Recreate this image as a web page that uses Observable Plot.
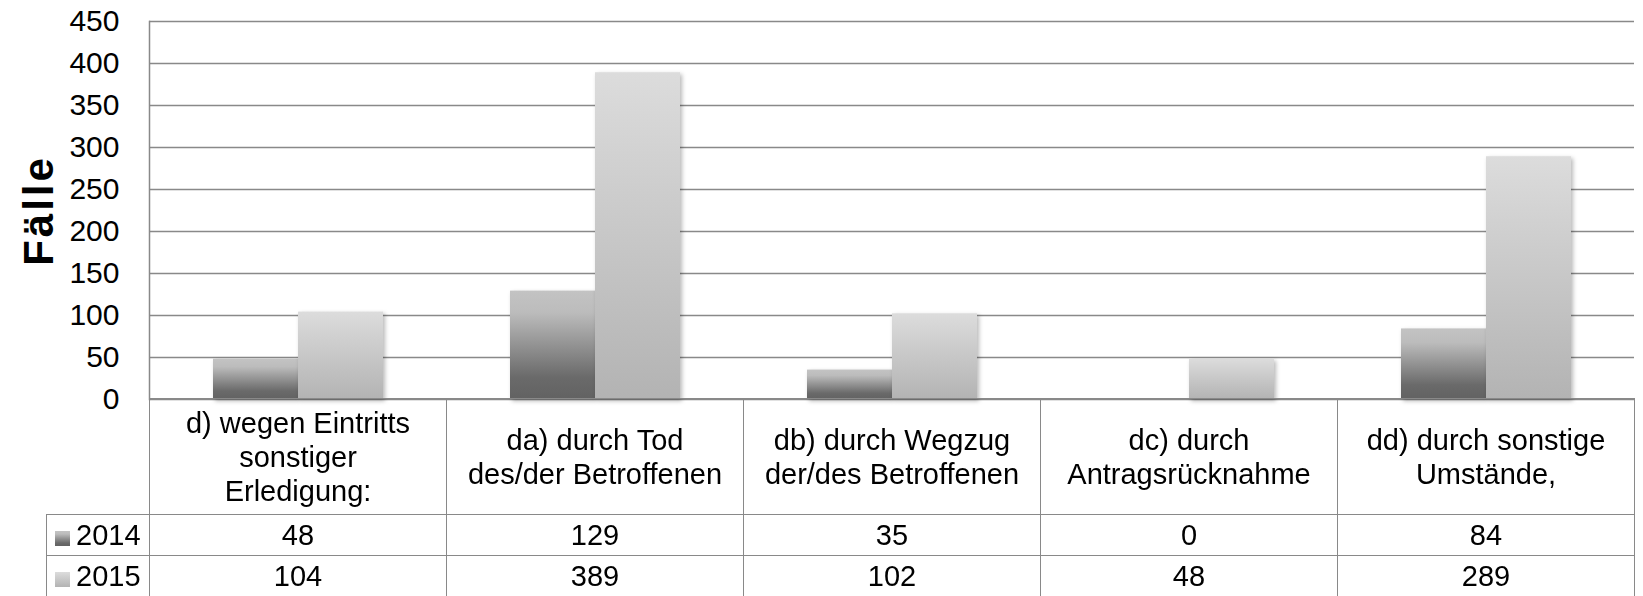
<!DOCTYPE html>
<html>
<head>
<meta charset="utf-8">
<script src="https://cdn.jsdelivr.net/npm/d3@7"></script>
<script src="https://cdn.jsdelivr.net/npm/@observablehq/plot@0.6"></script>
<style>
  html, body { margin: 0; padding: 0; background: #fff; }
  #chart { position: relative; width: 1643px; height: 596px; overflow: hidden; font-family: "Liberation Sans", Arial, sans-serif; }
  #chart svg { position: absolute; left: 0; top: 0; }
  #tbl { position: absolute; border-collapse: collapse; table-layout: fixed; font-size: 29px; color: #000; font-family: "Liberation Sans", Arial, sans-serif; }
  #tbl td { border: 1.5px solid #898989; text-align: center; vertical-align: middle; padding: 0; line-height: 34px; white-space: pre-line; overflow: hidden; }
  #tbl td.blank { border-top: none; border-left: none; }
  #tbl td.leg { text-align: left; padding-left: 8px; white-space: nowrap; }
  .sw { display: inline-block; width: 15px; height: 15px; margin-right: 6px; vertical-align: -1px; }
  .sw2014 { background: linear-gradient(#c3c3c3, #bcbcbc 20%, #6a6a6a 80%, #626262); }
  .sw2015 { background: linear-gradient(#dcdcdc, #b3b3b3); }
</style>
</head>
<body>
<div id="chart"></div>
<script>
// ---- data ----
const categories = [
  "d) wegen Eintritts\nsonstiger\nErledigung:",
  "da) durch Tod\ndes/der Betroffenen",
  "db) durch Wegzug\nder/des Betroffenen",
  "dc) durch\nAntragsrücknahme",
  "dd) durch sonstige\nUmstände,"
];
const years = ["2014", "2015"];
const values2014 = [48, 129, 35, 0, 84];
const values2015 = [104, 389, 102, 48, 289];
const yTicks = [0, 50, 100, 150, 200, 250, 300, 350, 400, 450];
const yLabel = "Fälle";

const series = { "2014": values2014, "2015": values2015 };
const data = categories.flatMap((c, i) => years.map(yr => ({ category: c, year: yr, value: series[yr][i] })));

const gridColor = "#898989";

const plot = Plot.plot({
  width: 1643,
  height: 401,
  marginLeft: 148,
  marginRight: 9,
  marginTop: 21,
  marginBottom: 2,
  style: { fontFamily: "'Liberation Sans', Arial, sans-serif", color: "#000", background: "transparent", overflow: "visible" },
  fx: { domain: categories, padding: 0, axis: null },
  x: { domain: years, paddingInner: 0, paddingOuter: 0.737, axis: null },
  y: { domain: [0, 450] },
  marks: [
    Plot.gridY(yTicks, { stroke: gridColor, strokeOpacity: 1, strokeWidth: 1.5 }),
    Plot.frame({ anchor: "left", facetAnchor: "left", stroke: gridColor, strokeWidth: 1.5 }),
    Plot.axisY(yTicks, { tickSize: 0, tickPadding: 30, fontSize: 30, label: null }),
    Plot.axisY({ ticks: [], label: yLabel, labelAnchor: "center", labelOffset: 126, labelArrow: "none", fontSize: 42, fontWeight: "bold" }),
    Plot.barY(data.filter(d => d.year === "2014"), { fx: "category", x: "year", y: "value", fill: "url(#g2014)" }),
    Plot.barY(data.filter(d => d.year === "2015"), { fx: "category", x: "year", y: "value", fill: "url(#g2015)" })
  ]
});

// gradients
const ns = "http://www.w3.org/2000/svg";
const defs = document.createElementNS(ns, "defs");
defs.innerHTML = `
  <linearGradient id="g2014" x1="0" y1="0" x2="0" y2="1">
    <stop offset="0" stop-color="#c3c3c3"/>
    <stop offset="0.2" stop-color="#bcbcbc"/>
    <stop offset="0.8" stop-color="#6a6a6a"/>
    <stop offset="1" stop-color="#626262"/>
  </linearGradient>
  <linearGradient id="g2015" x1="0" y1="0" x2="0" y2="1">
    <stop offset="0" stop-color="#dcdcdc"/>
    <stop offset="1" stop-color="#b3b3b3"/>
  </linearGradient>`;
plot.insertBefore(defs, plot.firstChild);
plot.querySelectorAll('g[aria-label="bar"]').forEach(g => {
  g.style.filter = "drop-shadow(2px 2px 2px rgba(0,0,0,0.28))";
});
plot.querySelectorAll('g[aria-label="y-axis label"] text').forEach(t => {
  t.style.letterSpacing = "3px";
});

const chart = document.getElementById("chart");
chart.appendChild(plot);

// data table aligned with the facet scale
const fx = plot.scale("fx");
const y = plot.scale("y");
const bw = fx.bandwidth;
const left0 = fx.apply(categories[0]);
const legendW = 103;

const tbl = document.createElement("table");
tbl.id = "tbl";
tbl.style.left = (left0 - legendW) + "px";
tbl.style.top = (y.apply(0) - 0.75) + "px";
const cg = document.createElement("colgroup");
cg.innerHTML = `<col style="width:${legendW}px">` + categories.map(() => `<col style="width:${bw}px">`).join("");
tbl.appendChild(cg);

const head = document.createElement("tr");
head.style.height = "116px";
head.innerHTML = `<td class="blank"></td>` + categories.map(c => `<td>${c}</td>`).join("");
tbl.appendChild(head);
years.forEach(yr => {
  const tr = document.createElement("tr");
  tr.style.height = "41px";
  tr.innerHTML = `<td class="leg"><span class="sw sw${yr}"></span>${yr}</td>` +
    series[yr].map(v => `<td>${v}</td>`).join("");
  tbl.appendChild(tr);
});
tbl.style.width = (legendW + bw * categories.length) + "px";
chart.appendChild(tbl);
</script>
</body>
</html>
